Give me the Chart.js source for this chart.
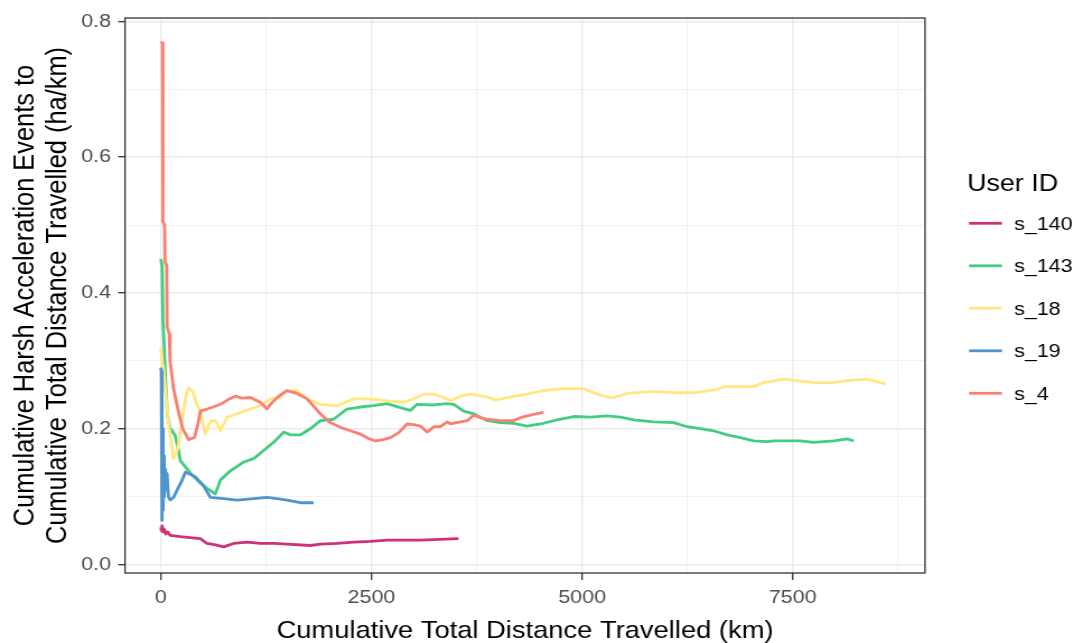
<!DOCTYPE html>
<html>
<head>
<meta charset="utf-8">
<script src="https://cdn.jsdelivr.net/npm/chart.js@4.4.1/dist/chart.umd.min.js"></script>
<style>
  html, body { margin: 0; padding: 0; background: #ffffff; overflow: hidden; }
  #wrap { width: 1079px; height: 643px; overflow: hidden; }
  /* the drawing is widened horizontally, as in the original figure export */
  #c { display: block; transform: scaleX(1.12); transform-origin: 0 0; }
</style>
</head>
<body>
<div id="wrap"><canvas id="c" width="963" height="643"></canvas></div>
<script>
// ---- series: user ids and line colours ----
const userIds = ['s_140', 's_143', 's_18', 's_19', 's_4'];
const lineColors = ['#CD3278', '#43CD80', '#FFE882', '#4F94CD', '#FA8072'];

// ---- cumulative distance (km) and harsh-acceleration rate (ha/km) per user ----
const s140Km   = [0, 8, 15, 25, 40, 60, 80, 113, 231, 469, 548, 650, 745, 864, 1023, 1181, 1339, 1498, 1775, 1894, 2092, 2289, 2487, 2685, 3082, 3300, 3532];
const s140Rate = [0.055, 0.050, 0.057, 0.048, 0.052, 0.045, 0.048, 0.043, 0.041, 0.038, 0.031, 0.029, 0.026, 0.031, 0.033, 0.031, 0.031, 0.030, 0.028, 0.030, 0.031, 0.033, 0.034, 0.036, 0.036, 0.037, 0.038];

const s143Km   = [0, 15, 25, 40, 60, 80, 110, 133, 170, 211, 231, 350, 450, 550, 647, 706, 825, 983, 1102, 1220, 1339, 1458, 1537, 1656, 1775, 1894, 2051, 2210, 2368, 2526, 2685, 2843, 2962, 3041, 3238, 3397, 3476, 3595, 3713, 3872, 4030, 4188, 4347, 4506, 4703, 4900, 5098, 5297, 5455, 5613, 5850, 6087, 6246, 6404, 6562, 6721, 6879, 7037, 7196, 7274, 7591, 7749, 7987, 8146, 8224];
const s143Rate = [0.450, 0.440, 0.360, 0.320, 0.260, 0.220, 0.200, 0.197, 0.190, 0.168, 0.153, 0.135, 0.122, 0.112, 0.104, 0.124, 0.138, 0.151, 0.156, 0.168, 0.180, 0.195, 0.191, 0.191, 0.200, 0.212, 0.214, 0.229, 0.232, 0.234, 0.237, 0.231, 0.227, 0.236, 0.235, 0.237, 0.236, 0.226, 0.222, 0.212, 0.209, 0.208, 0.204, 0.207, 0.213, 0.218, 0.217, 0.219, 0.217, 0.213, 0.210, 0.209, 0.203, 0.200, 0.197, 0.191, 0.187, 0.182, 0.181, 0.182, 0.182, 0.180, 0.182, 0.185, 0.182];

const s18Km   = [0, 14, 30, 60, 100, 152, 200, 250, 300, 330, 380, 430, 469, 528, 567, 600, 647, 706, 786, 905, 1062, 1181, 1300, 1419, 1498, 1617, 1736, 1894, 2092, 2289, 2487, 2685, 2882, 3001, 3120, 3238, 3357, 3437, 3556, 3674, 3872, 3971, 4110, 4347, 4544, 4782, 5019, 5138, 5256, 5375, 5534, 5850, 6087, 6325, 6603, 6681, 7037, 7156, 7393, 7591, 7749, 7987, 8146, 8383, 8541, 8600];
const s18Rate = [0.320, 0.300, 0.290, 0.250, 0.200, 0.156, 0.170, 0.210, 0.250, 0.260, 0.255, 0.235, 0.226, 0.192, 0.205, 0.212, 0.212, 0.197, 0.217, 0.222, 0.229, 0.234, 0.244, 0.246, 0.256, 0.256, 0.244, 0.236, 0.234, 0.244, 0.244, 0.241, 0.239, 0.244, 0.251, 0.251, 0.246, 0.241, 0.248, 0.251, 0.247, 0.242, 0.246, 0.251, 0.256, 0.259, 0.259, 0.253, 0.248, 0.246, 0.252, 0.255, 0.253, 0.253, 0.258, 0.262, 0.262, 0.268, 0.273, 0.270, 0.268, 0.268, 0.271, 0.273, 0.268, 0.266];

const s19Km   = [0, 6, 10, 14, 18, 24, 28, 34, 40, 48, 56, 74, 90, 113, 152, 211, 252, 291, 330, 410, 508, 588, 745, 905, 1102, 1261, 1379, 1498, 1656, 1814];
const s19Rate = [0.290, 0.285, 0.140, 0.240, 0.065, 0.200, 0.080, 0.160, 0.100, 0.140, 0.110, 0.134, 0.100, 0.095, 0.099, 0.114, 0.124, 0.136, 0.134, 0.129, 0.116, 0.099, 0.097, 0.095, 0.097, 0.099, 0.097, 0.095, 0.091, 0.091];

const s4Km   = [0, 20, 25, 45, 50, 70, 75, 100, 110, 150, 200, 260, 330, 400, 440, 470, 550, 620, 706, 800, 884, 960, 1062, 1181, 1261, 1300, 1339, 1420, 1498, 1560, 1617, 1736, 1894, 2000, 2131, 2250, 2369, 2460, 2547, 2640, 2725, 2820, 2923, 3000, 3082, 3160, 3240, 3318, 3400, 3437, 3556, 3640, 3713, 3800, 3872, 3950, 4030, 4188, 4260, 4347, 4450, 4544];
const s4Rate = [0.770, 0.768, 0.505, 0.500, 0.446, 0.440, 0.350, 0.340, 0.300, 0.260, 0.230, 0.200, 0.184, 0.187, 0.207, 0.226, 0.229, 0.232, 0.236, 0.243, 0.248, 0.245, 0.246, 0.239, 0.229, 0.236, 0.241, 0.250, 0.256, 0.254, 0.252, 0.244, 0.222, 0.210, 0.202, 0.197, 0.192, 0.186, 0.182, 0.184, 0.187, 0.194, 0.207, 0.206, 0.204, 0.195, 0.203, 0.203, 0.210, 0.207, 0.210, 0.212, 0.220, 0.216, 0.214, 0.213, 0.212, 0.212, 0.216, 0.219, 0.222, 0.224];

// ---- axis ticks: labelled (major) values, their labels, and all grid positions ----
const xTickValues = [0, 2500, 5000, 7500];
const xTickLabels = ['0', '2500', '5000', '7500'];
const xGridValues = [0, 1250, 2500, 3750, 5000, 6250, 7500, 8750];
const yTickValues = [0, 0.2, 0.4, 0.6, 0.8];
const yTickLabels = ['0.0', '0.2', '0.4', '0.6', '0.8'];
const yGridValues = [0, 0.1, 0.2, 0.3, 0.4, 0.5, 0.6, 0.7, 0.8];

const seriesKm   = [s140Km, s143Km, s18Km, s19Km, s4Km];
const seriesRate = [s140Rate, s143Rate, s18Rate, s19Rate, s4Rate];

const FONT = "'Liberation Sans', Arial, sans-serif";
Chart.defaults.font.family = FONT;

const datasets = userIds.map((id, i) => ({
  label: id,
  data: seriesKm[i].map((km, j) => ({ x: km, y: seriesRate[i][j] })),
  borderColor: lineColors[i],
  backgroundColor: lineColors[i],
  order: userIds.length - i   // later users drawn on top
}));

function labelFor(values, labels, v, tol) {
  const k = values.findIndex(t => Math.abs(t - v) < tol);
  return k >= 0 ? labels[k] : '';
}
const isMajorX = v => labelFor(xTickValues, xTickLabels, v, 1) !== '';
const isMajorY = v => labelFor(yTickValues, yTickLabels, v, 1e-6) !== '';

// panel border on top of the lines, plus the key at the right
const panelAndKey = {
  id: 'panelAndKey',
  afterDatasetsDraw(chart) {
    const { ctx, chartArea: a } = chart;
    ctx.save();
    ctx.strokeStyle = '#333333';
    ctx.lineWidth = 1.3;
    ctx.strokeRect(a.left, a.top, a.right - a.left, a.bottom - a.top);
    ctx.restore();
  },
  afterDraw(chart) {
    const ctx = chart.ctx;
    ctx.save();
    ctx.fillStyle = '#000000';
    ctx.textBaseline = 'middle';
    ctx.textAlign = 'left';
    ctx.font = '24px ' + FONT;
    ctx.fillText('User ID', 863.4, 184);
    ctx.font = '19.2px ' + FONT;
    userIds.forEach((id, i) => {
      const y = 223.3 + i * 42.5;
      ctx.strokeStyle = lineColors[i];
      ctx.lineWidth = 2.8;
      ctx.beginPath();
      ctx.moveTo(865.2, y);
      ctx.lineTo(894.6, y);
      ctx.stroke();
      ctx.fillText(id, 905.4, y + 1);
    });
    ctx.restore();
  }
};

new Chart(document.getElementById('c'), {
  type: 'line',
  data: { datasets },
  plugins: [panelAndKey],
  options: {
    responsive: false,
    animation: false,
    layout: { padding: { left: 0, top: 15, right: 137.1, bottom: 0 } },
    plugins: { legend: { display: false }, tooltip: { enabled: false } },
    elements: {
      line: { borderWidth: 2.8, tension: 0, borderCapStyle: 'butt', borderJoinStyle: 'round' },
      point: { radius: 0, hoverRadius: 0 }
    },
    scales: {
      x: {
        type: 'linear',
        min: -425,
        max: 9070,
        afterFit(s) { s.height = 70; },
        afterBuildTicks(s) { s.ticks = xGridValues.map(v => ({ value: v })); },
        border: { display: false },
        grid: {
          color: '#EBEBEB',
          lineWidth: c => isMajorX(c.tick.value) ? 1.4 : 0.7,
          tickLength: 7,
          tickWidth: 1.3,
          tickColor: c => isMajorX(c.tick.value) ? '#333333' : 'rgba(0,0,0,0)'
        },
        ticks: {
          autoSkip: false,
          maxRotation: 0,
          padding: 6,
          color: '#4D4D4D',
          font: { size: 19.2 },
          callback: v => labelFor(xTickValues, xTickLabels, v, 1)
        },
        title: {
          display: true,
          text: 'Cumulative Total Distance Travelled (km)',
          color: '#000000',
          font: { size: 24.4, lineHeight: 1 },
          padding: 0
        }
      },
      y: {
        type: 'linear',
        min: -0.0125,
        max: 0.805,
        afterFit(s) { s.width = 111.6; },
        afterBuildTicks(s) { s.ticks = yGridValues.map(v => ({ value: v })); },
        border: { display: false },
        grid: {
          color: '#EBEBEB',
          lineWidth: c => isMajorY(c.tick.value) ? 1.4 : 0.7,
          tickLength: 6,
          tickWidth: 1.3,
          tickColor: c => isMajorY(c.tick.value) ? '#333333' : 'rgba(0,0,0,0)'
        },
        ticks: {
          autoSkip: false,
          padding: 6.5,
          color: '#4D4D4D',
          font: { size: 19.2 },
          callback: v => labelFor(yTickValues, yTickLabels, v, 1e-6)
        },
        title: {
          display: true,
          text: ['Cumulative Harsh Acceleration Events to', 'Cumulative Total Distance Travelled (ha/km)'],
          color: '#000000',
          font: { size: 25.4, lineHeight: 1.14 },
          padding: { top: 9, bottom: 0 }
        }
      }
    }
  }
});
</script>
</body>
</html>
